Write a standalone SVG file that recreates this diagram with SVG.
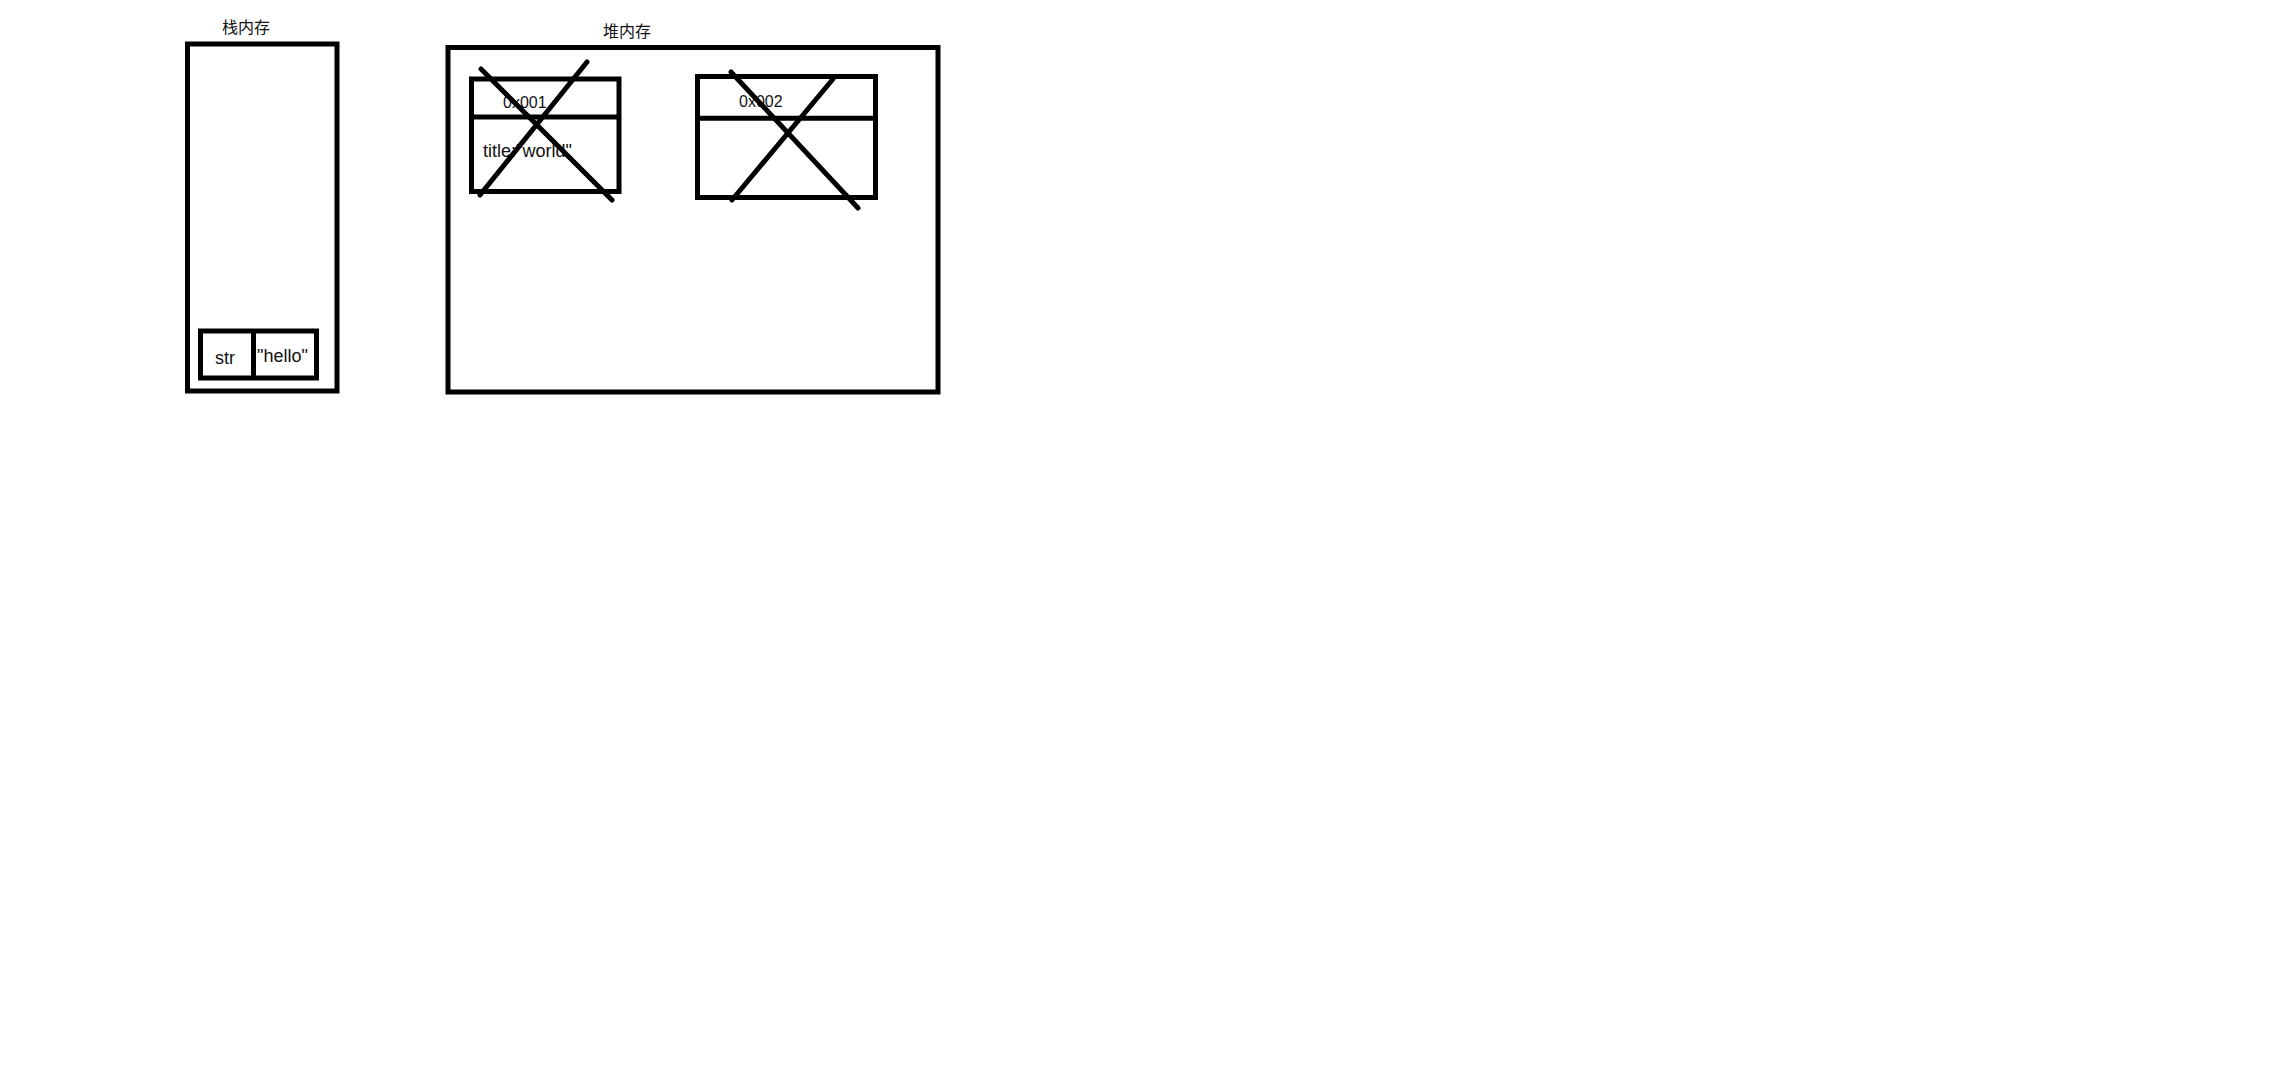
<svg xmlns="http://www.w3.org/2000/svg" width="2279" height="1083" viewBox="0 0 2279 1083">
<style>
.box{fill:none;stroke:#000;stroke-width:5}
.x{stroke:#000;stroke-width:5;stroke-linecap:round;fill:none}
.cjk{font-family:"Noto Sans CJK SC","Liberation Sans",sans-serif;font-size:16px;fill:#111}
.t{font-family:"Liberation Sans","Noto Sans",sans-serif;font-size:18px;fill:#111}
.a{font-family:"Liberation Sans","Noto Sans",sans-serif;font-size:16px;fill:#111}
</style>
<rect width="2279" height="1083" fill="#fff"/>
<g id="stack">
<text class="cjk" x="222" y="33">栈内存</text>
<rect class="box" x="187.5" y="44" width="149.5" height="347"/>
</g>
<g id="str-var">
<rect class="box" x="200.5" y="331" width="116" height="47"/>
<line class="box" x1="253.5" y1="331" x2="253.5" y2="378"/>
<text class="t" x="215" y="364">str</text>
<text class="t" x="257" y="362">"hello"</text>
</g>
<g id="heap">
<text class="cjk" x="603" y="37">堆内存</text>
<rect class="box" x="448" y="47.5" width="490" height="344.5"/>
</g>
<g id="obj1">
<rect class="box" x="471.5" y="79" width="147.5" height="112.5"/>
<line class="box" x1="471.5" y1="117" x2="619" y2="117"/>
<text class="a" x="503" y="108">0x001</text>
<text class="t" x="483" y="157">title:"world"</text>
</g>
<g id="obj2">
<rect class="box" x="697.5" y="76.5" width="178" height="121"/>
<line class="box" x1="697.5" y1="118.3" x2="875.5" y2="118.3"/>
<text class="a" x="739" y="107">0x002</text>
</g>
<g id="connectors">
<line class="x" x1="481" y1="69" x2="612" y2="200"/>
<line class="x" x1="587" y1="62" x2="480" y2="195"/>
<line class="x" x1="731" y1="72" x2="858" y2="208"/>
<line class="x" x1="833" y1="79" x2="732" y2="200"/>
</g>
</svg>
